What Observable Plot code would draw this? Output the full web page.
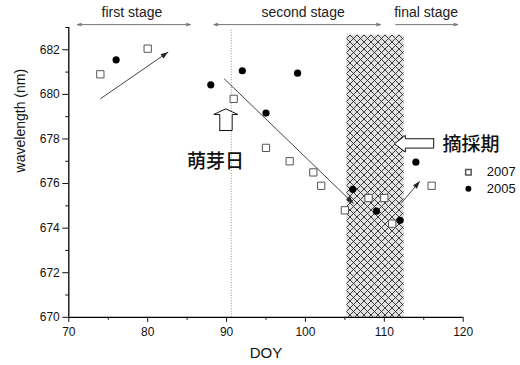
<!DOCTYPE html>
<html><head><meta charset="utf-8">
<script src="https://cdn.jsdelivr.net/npm/d3@7"></script>
<script src="https://cdn.jsdelivr.net/npm/@observablehq/plot@0.6"></script>
<style>
body{margin:0;background:#fff;}
#chart svg{display:block;}
</style>
</head><body><div id="chart"></div>
<script>
// 2007 series (open squares)
const doy2007 = [74, 80, 90.9, 95, 98, 101, 102, 105, 108, 110, 111, 116];
const wl2007  = [680.9, 682.05, 679.8, 677.6, 677.0, 676.5, 675.9, 674.8, 675.35, 675.35, 674.2, 675.9];
// 2005 series (filled circles)
const doy2005 = [76, 88, 92, 95, 99, 106, 109, 112, 114];
const wl2005  = [681.55, 680.43, 681.06, 679.16, 680.95, 675.74, 674.76, 674.35, 676.96];

// axis ticks
const xTicks = [70, 80, 90, 100, 110, 120];
const xMinor = [75, 85, 95, 105, 115];
const yTicks = [670, 672, 674, 676, 678, 680, 682];
const yMinor = [671, 673, 675, 677, 679, 681, 683];

// trend arrows [x1, y1, x2, y2]
const trendArrows = [
  [74.0, 679.8, 82.6, 681.9],
  [89.7, 680.7, 106.1, 675.1],
  [112.1, 675.1, 114.5, 676.1]
];
// stage labels and spans
const stageNames = ["first stage", "second stage", "final stage"];
const stageCenter = [78, 99.7, 115.3];
const stageFrom = [71.1, 88.4, 111.4];
const stageTo = [85.4, 109.5, 119.3];
const stageDouble = [true, true, false];

// budding day line and plucking period
const buddingDay = 90.6;
const pluckStart = 105.25, pluckEnd = 112.5, pluckTop = 682.65;

// block arrow outlines
const upArrowX = [89.14, 89.14, 88.38, 89.90, 91.42, 90.71, 90.71, 89.14];
const upArrowY = [678.38, 679.10, 679.10, 679.35, 679.10, 679.10, 678.38, 678.38];
const leftArrowX = [116.26, 112.67, 112.67, 111.28, 112.67, 112.67, 116.26, 116.26];
const leftArrowY = [678.01, 678.01, 678.16, 677.78, 677.41, 677.59, 677.59, 678.01];

// annotation labels
const noteText = ["萌芽日", "摘採期"];
const noteX = [88.6, 121.0];
const noteY = [676.99, 677.75];

// legend
const legendNames = ["2007", "2005"];
const legendX = 120.66, legendTextX = 123.0;
const legendY = [676.51, 675.77];

const s2007 = doy2007.map((d, i) => ({x: d, y: wl2007[i]}));
const s2005 = doy2005.map((d, i) => ({x: d, y: wl2005[i]}));
const trends = trendArrows.map(([x1, y1, x2, y2]) => ({x1, y1, x2, y2}));
const stageY = 683.67, stageArrowY = 683.13;
const stageArr = [];
stageNames.forEach((n, i) => {
  const mid = (stageFrom[i] + stageTo[i]) / 2;
  stageArr.push({x1: mid, x2: stageTo[i]});
  if (stageDouble[i]) stageArr.push({x1: mid, x2: stageFrom[i]});
  else stageArr.push({x1: mid, x2: stageFrom[i], noHead: true});
});
const upArrow = upArrowX.map((x, i) => ({x, y: upArrowY[i]}));
const leftArrow = leftArrowX.map((x, i) => ({x, y: leftArrowY[i]}));

const plot = Plot.plot({
  width: 520,
  height: 365,
  marginLeft: 68.3,
  marginRight: 57.3,
  marginTop: 27,
  marginBottom: 48.2,
  style: {fontFamily: "'Liberation Sans', Arial, sans-serif", fontSize: "12px", color: "#111", background: "#fff"},
  x: {domain: [70, 120]},
  y: {domain: [670, 683]},
  marks: [
    // plucking period hatched rect
    Plot.rect([0], {x1: pluckStart, x2: pluckEnd, y1: 670, y2: pluckTop, fill: "#ddd", className: "hatch"}),
    // budding day dotted line
    Plot.ruleX([buddingDay], {y1: 670, y2: 682.95, stroke: "#777", strokeWidth: 0.8, strokeDasharray: "1,1.6"}),
    // axes lines
    Plot.ruleX([70], {y1: 670, y2: 683, stroke: "#000", strokeWidth: 1.3}),
    Plot.ruleY([670], {x1: 70, x2: 120, stroke: "#000", strokeWidth: 1.3}),
    Plot.axisX({ticks: xTicks, tickSize: 5, tickPadding: 5, fontSize: 12, label: null}),
    Plot.axisX({ticks: xMinor, tickSize: 3, tickFormat: () => "", label: null}),
    Plot.axisY({ticks: yTicks, tickSize: 6, tickPadding: 3, fontSize: 12, label: null}),
    Plot.axisY({ticks: yMinor, tickSize: 3, tickFormat: () => "", label: null}),
    Plot.text(["DOY"], {frameAnchor: "bottom", dy: 41, fontSize: 15, fill: "#111"}),
    Plot.text(["wavelength (nm)"], {frameAnchor: "left", dx: -48, rotate: -90, fontSize: 14, fill: "#111"}),
    // trend arrows (filled heads added below)
    Plot.link(trends, {x1: "x1", y1: "y1", x2: "x2", y2: "y2", stroke: "#444", strokeWidth: 1, className: "trend"}),
    // stage arrows and labels
    Plot.arrow(stageArr.filter(d => !d.noHead), {x1: "x1", x2: "x2", y1: () => stageArrowY, y2: () => stageArrowY, stroke: "#777", strokeWidth: 1, headLength: 6, headAngle: 35}),
    Plot.link(stageArr.filter(d => d.noHead), {x1: "x1", x2: "x2", y1: () => stageArrowY, y2: () => stageArrowY, stroke: "#777", strokeWidth: 1}),
    Plot.text(stageNames, {x: (d, i) => stageCenter[i], y: () => stageY, text: d => d, fontSize: 14, fill: "#222"}),
    // block arrows
    Plot.line(upArrow, {x: "x", y: "y", fill: "#fff", stroke: "#111", strokeWidth: 1, curve: "linear"}),
    Plot.line(leftArrow, {x: "x", y: "y", fill: "#fff", stroke: "#111", strokeWidth: 1, curve: "linear"}),
    Plot.text(noteText, {x: (d, i) => noteX[i], y: (d, i) => noteY[i], text: d => d, fontSize: 19, fontWeight: 500, fill: "#111", fontFamily: "'Noto Sans CJK JP', sans-serif"}),
    // data
    Plot.dot(s2007, {x: "x", y: "y", symbol: "square", r: 4.1, fill: "#fff", stroke: "#555", strokeWidth: 1}),
    Plot.dot(s2005, {x: "x", y: "y", symbol: "circle", r: 3.6, fill: "#000", stroke: "none"}),
    // legend
    Plot.dot(legendNames, {x: () => legendX, y: (d, i) => legendY[i], symbol: (d, i) => i === 0 ? "square" : "circle", r: (d, i) => i === 0 ? 3.8 : 3.4, fill: (d, i) => i === 0 ? "#fff" : "#000", stroke: (d, i) => i === 0 ? "#555" : "none"}),
    Plot.text(legendNames, {x: () => legendTextX, y: (d, i) => legendY[i], text: d => d, textAnchor: "start", fontSize: 13, fill: "#111"})
  ]
});

// crosshatch pattern + filled arrowhead marker
const ns = "http://www.w3.org/2000/svg";
const defs = document.createElementNS(ns, "defs");
defs.innerHTML = `<pattern id="hatch" patternUnits="userSpaceOnUse" width="7" height="7">
  <rect width="7" height="7" fill="#e2e2e2"></rect>
  <path d="M0,0L7,7M7,0L0,7M-1,6L1,8M6,-1L8,1M6,8L8,6M-1,1L1,-1" stroke="#2a2a2a" stroke-width="0.9"></path>
</pattern>
<marker id="ah" markerUnits="userSpaceOnUse" viewBox="-8 -4 9 8" markerWidth="9" markerHeight="8" refX="0" refY="0" orient="auto">
  <path d="M-7.5,-2.6L0,0L-7.5,2.6Z" fill="#222"></path>
</marker>`;
plot.insertBefore(defs, plot.firstChild);
plot.querySelectorAll(".hatch rect").forEach(r => r.setAttribute("fill", "url(#hatch)"));
plot.querySelectorAll(".trend path, .trend line").forEach(p => p.setAttribute("marker-end", "url(#ah)"));
document.getElementById("chart").appendChild(plot);
</script>
</body></html>
